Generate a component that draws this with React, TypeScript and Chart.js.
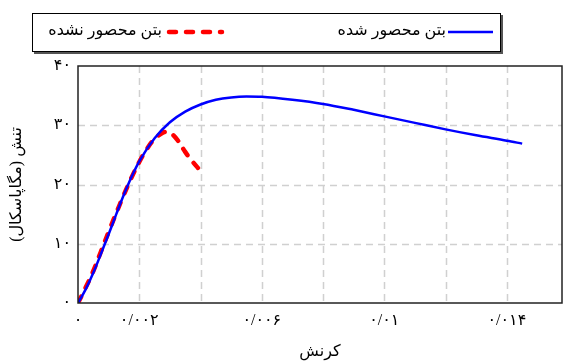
import React, { useEffect, useRef } from "react";
import { Chart, registerables } from "chart.js";

Chart.register(...registerables);

const confinedStrain = [0, 0.00025, 0.0005, 0.00075, 0.001, 0.00125, 0.0015, 0.00175, 0.002, 0.0025, 0.003, 0.0035, 0.004, 0.0045, 0.005, 0.0055, 0.006, 0.007, 0.008, 0.009, 0.01, 0.011, 0.012, 0.013, 0.014, 0.0145];
const confinedStress = [0, 2.3, 5.1, 8.3, 11.6, 15.0, 18.3, 21.3, 23.9, 27.8, 30.5, 32.3, 33.5, 34.3, 34.7, 34.85, 34.8, 34.3, 33.6, 32.6, 31.5, 30.4, 29.3, 28.3, 27.4, 26.9];

const unconfinedStrain = [0, 0.00025, 0.0005, 0.00075, 0.001, 0.00125, 0.0015, 0.00175, 0.002, 0.00225, 0.0025, 0.00275, 0.0029, 0.003, 0.00325, 0.0035, 0.00375, 0.004];
const unconfinedStress = [0, 2.6, 5.4, 8.7, 12.0, 15.2, 18.3, 21.2, 23.8, 26.0, 27.7, 28.7, 28.9, 28.8, 27.5, 25.5, 23.8, 22.3];

const seriesLabels = ["بتن محصور شده", "بتن محصور نشده"];
const xGridTicks = [0, 0.002, 0.004, 0.006, 0.008, 0.01, 0.012, 0.014];
const xLabeledTicks = [0, 0.002, 0.006, 0.01, 0.014];
const yTicks = [0, 10, 20, 30, 40];
const xTitle = "کرنش";
const yTitle = "تنش (مگاپاسکال)";

const FONT = "'Times New Roman', 'Liberation Serif', 'DejaVu Sans', serif";

const faDigits = (s: string) => s.replace(/[0-9]/g, (d) => "۰۱۲۳۴۵۶۷۸۹"[+d]).replace(".", "/");

const fmtX = (v: number) => {
  if (Math.abs(v) < 1e-9) return "۰";
  return faDigits(parseFloat(v.toFixed(4)).toString());
};

const gridPlugin = {
  id: "dashGrid",
  beforeDatasetsDraw(chart: any) {
    const { ctx, chartArea, scales } = chart;
    ctx.save();
    ctx.strokeStyle = "#d0d0d0";
    ctx.lineWidth = 1.5;
    ctx.setLineDash([7, 5]);
    for (const v of xGridTicks) {
      if (v === 0) continue;
      const x = Math.round(scales.x.getPixelForValue(v)) + 0.5;
      ctx.beginPath();
      ctx.moveTo(x, chartArea.top);
      ctx.lineTo(x, chartArea.bottom);
      ctx.stroke();
    }
    for (const v of yTicks) {
      if (v === 0 || v === 40) continue;
      const y = Math.round(scales.y.getPixelForValue(v)) + 0.5;
      ctx.beginPath();
      ctx.moveTo(chartArea.left, y);
      ctx.lineTo(chartArea.right, y);
      ctx.stroke();
    }
    ctx.restore();
  },
};

const framePlugin = {
  id: "frameLegend",
  afterDraw(chart: any) {
    const { ctx, chartArea } = chart;
    ctx.save();
    ctx.strokeStyle = "#222";
    ctx.lineWidth = 1.5;
    ctx.strokeRect(chartArea.left, chartArea.top, chartArea.right - chartArea.left, chartArea.bottom - chartArea.top);
    // legend box
    ctx.fillStyle = "#555";
    ctx.fillRect(34, 15, 469, 39);
    ctx.fillStyle = "#fff";
    ctx.fillRect(32, 13, 469, 39);
    ctx.strokeStyle = "#000";
    ctx.lineWidth = 1;
    ctx.strokeRect(32.5, 13.5, 468, 38);
    const items = [
      { x1: 448, x2: 493, gap: 2, ds: chart.data.datasets[0] },
      { x1: 169, x2: 222, gap: 7, ds: chart.data.datasets[1] },
    ];
    ctx.font = `16px ${FONT}`;
    ctx.textBaseline = "middle";
    ctx.textAlign = "right";
    for (const it of items) {
      ctx.beginPath();
      ctx.strokeStyle = it.ds.borderColor;
      ctx.lineWidth = it.ds.borderWidth;
      ctx.lineCap = it.ds.borderCapStyle || "butt";
      ctx.setLineDash(it.ds.borderDash || []);
      ctx.moveTo(it.x1, 32);
      ctx.lineTo(it.x2, 32);
      ctx.stroke();
      ctx.setLineDash([]);
      ctx.fillStyle = "#000";
      ctx.fillText(it.ds.label, it.x1 - it.gap, 31);
    }
    ctx.restore();
  },
};

export default function App() {
  const ref = useRef<HTMLCanvasElement>(null);
  useEffect(() => {
    document.body.style.margin = "0";
    const c = ref.current!;
    const chart = new Chart(c, {
      type: "line",
      data: {
        datasets: [
          {
            label: seriesLabels[0],
            data: confinedStrain.map((x, i) => ({ x, y: confinedStress[i] })),
            borderColor: "#0000ff",
            borderWidth: 2.5,
            pointRadius: 0,
            cubicInterpolationMode: "monotone",
            fill: false,
          },
          {
            label: seriesLabels[1],
            data: unconfinedStrain.map((x, i) => ({ x, y: unconfinedStress[i] })),
            borderColor: "#ff0000",
            borderWidth: 4.5,
            borderDash: [7, 10],
            borderCapStyle: "round",
            pointRadius: 0,
            tension: 0.4,
            fill: false,
          },
        ] as any,
      },
      options: {
        animation: false,
        responsive: false,
        maintainAspectRatio: false,
        layout: { padding: { top: 66, right: 1, left: 0, bottom: 0 } },
        plugins: { legend: { display: false }, tooltip: { enabled: false } },
        scales: {
          x: {
            type: "linear",
            min: 0,
            max: 0.0158,
            afterBuildTicks: (s: any) => {
              s.ticks = xGridTicks.map((v) => ({ value: v }));
            },
            afterFit: (s: any) => {
              s.height = 61;
            },
            grid: { display: false, drawTicks: false },
            border: { display: false },
            ticks: {
              autoSkip: false,
              maxRotation: 0,
              padding: 8,
              color: "#000",
              font: { family: FONT, size: 16 },
              callback: (v: any) => {
                const val = Number(v);
                return xLabeledTicks.some((t) => Math.abs(t - val) < 1e-9) ? fmtX(val) : "";
              },
            },
            title: {
              display: true,
              text: xTitle,
              color: "#000",
              font: { family: FONT, size: 16 },
              padding: { top: 0, bottom: 3 },
            },
          },
          y: {
            type: "linear",
            min: 0,
            max: 40,
            afterBuildTicks: (s: any) => {
              s.ticks = yTicks.map((v) => ({ value: v }));
            },
            afterFit: (s: any) => {
              s.width = 78;
            },
            grid: { display: false, drawTicks: false },
            border: { display: false },
            ticks: {
              padding: 7,
              color: "#000",
              font: { family: FONT, size: 16 },
              callback: (v: any) => faDigits(String(v)),
            },
            title: {
              display: true,
              text: yTitle,
              color: "#000",
              font: { family: FONT, size: 16 },
              padding: { top: 7, bottom: 0 },
            },
          },
        },
      } as any,
      plugins: [gridPlugin, framePlugin],
    });
    return () => chart.destroy();
  }, []);
  return (
    <div style={{ width: 563, height: 364 }}>
      <canvas ref={ref} width={563} height={364} dir="rtl" style={{ display: "block" }} />
    </div>
  );
}
